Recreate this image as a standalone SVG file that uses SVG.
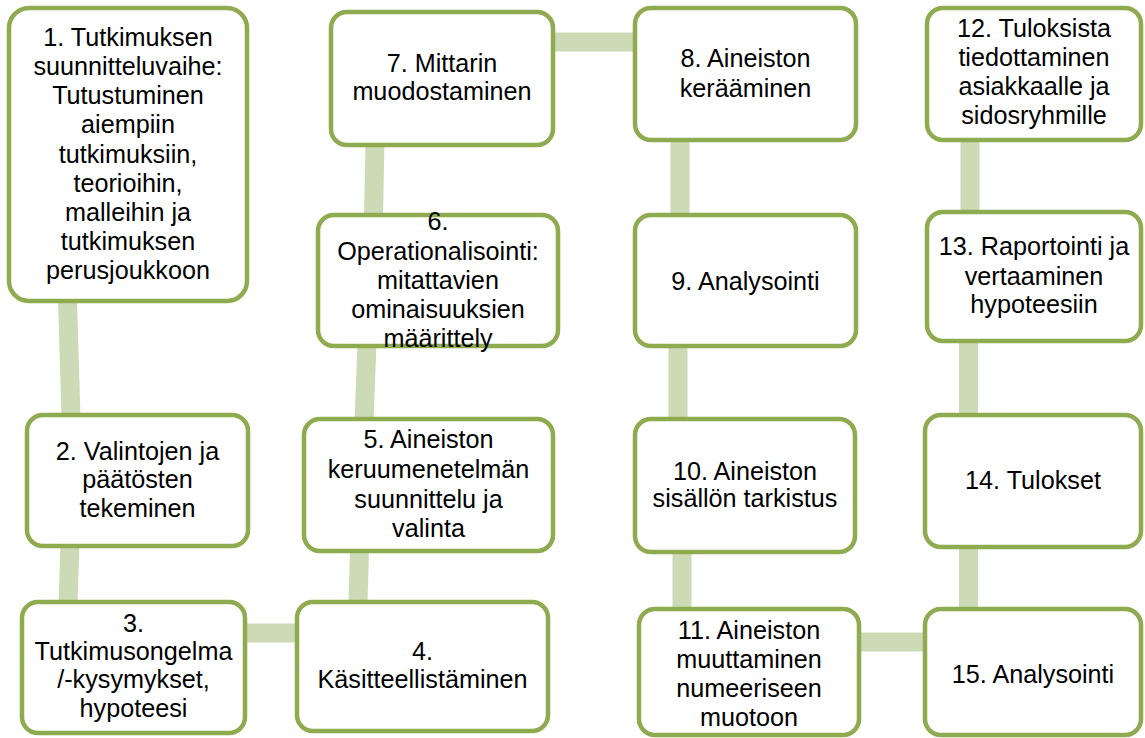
<svg xmlns="http://www.w3.org/2000/svg" width="1145" height="738" viewBox="0 0 1145 738">
<style>
.bg{fill:#ffffff}
.conn line{stroke:#CCDBB6;stroke-width:19;stroke-linecap:butt}
.box rect{fill:#ffffff;stroke:#8EAB50;stroke-width:4.5}
.box text{font-family:"Liberation Sans",Arial,sans-serif;font-size:25.2px;fill:#000000;text-anchor:middle}
</style>
<rect class="bg" x="0" y="0" width="1145" height="738"/>
<g id="connectors" class="conn">
<line x1="67.5" y1="300" x2="71" y2="417"/>
<line x1="70" y1="544" x2="68" y2="604"/>
<line x1="243" y1="633" x2="299" y2="633"/>
<line x1="359.5" y1="549" x2="358" y2="604"/>
<line x1="367" y1="344" x2="364" y2="421"/>
<line x1="375" y1="143" x2="373.5" y2="217"/>
<line x1="551" y1="42" x2="637" y2="42"/>
<line x1="680" y1="138" x2="680" y2="217"/>
<line x1="678" y1="344" x2="678" y2="421"/>
<line x1="682" y1="550" x2="682" y2="611"/>
<line x1="857" y1="642" x2="927" y2="642"/>
<line x1="968.5" y1="545" x2="968.5" y2="611"/>
<line x1="968.5" y1="339" x2="968.5" y2="417"/>
<line x1="970" y1="138" x2="970" y2="214"/>
</g>
<g id="n1" class="box"><rect x="9" y="8" width="238" height="293" rx="20"/>
<text x="128"><tspan x="128" y="46">1. Tutkimuksen</tspan><tspan x="128" y="75">suunnitteluvaihe:</tspan><tspan x="128" y="104">Tutustuminen</tspan><tspan x="128" y="133">aiempiin</tspan><tspan x="128" y="163">tutkimuksiin,</tspan><tspan x="128" y="192">teorioihin,</tspan><tspan x="128" y="221">malleihin ja</tspan><tspan x="128" y="250">tutkimuksen</tspan><tspan x="128" y="279">perusjoukkoon</tspan></text></g>
<g id="n2" class="box"><rect x="27" y="415" width="221" height="131" rx="16"/>
<text><tspan x="137.5" y="460">2. Valintojen ja</tspan><tspan x="137.5" y="488">päätösten</tspan><tspan x="137.5" y="517">tekeminen</tspan></text></g>
<g id="n3" class="box"><rect x="22" y="602" width="223" height="131" rx="16"/>
<text><tspan x="133.5" y="632">3.</tspan><tspan x="133.5" y="660">Tutkimusongelma</tspan><tspan x="133.5" y="688">/-kysymykset,</tspan><tspan x="133.5" y="717">hypoteesi</tspan></text></g>
<g id="n4" class="box"><rect x="297" y="602" width="251" height="129" rx="16"/>
<text><tspan x="422.5" y="660">4.</tspan><tspan x="422.5" y="688">Käsitteellistäminen</tspan></text></g>
<g id="n5" class="box"><rect x="304" y="419" width="249" height="132" rx="16"/>
<text><tspan x="428.5" y="448">5. Aineiston</tspan><tspan x="428.5" y="478">keruumenetelmän</tspan><tspan x="428.5" y="508">suunnittelu ja</tspan><tspan x="428.5" y="537">valinta</tspan></text></g>
<g id="n6" class="box"><rect x="318" y="215" width="240" height="131" rx="16"/>
<text><tspan x="438" y="230">6.</tspan><tspan x="438" y="260">Operationalisointi:</tspan><tspan x="438" y="289">mitattavien</tspan><tspan x="438" y="318">ominaisuuksien</tspan><tspan x="438" y="347">määrittely</tspan></text></g>
<g id="n7" class="box"><rect x="331" y="12" width="222" height="133" rx="16"/>
<text><tspan x="442" y="72">7. Mittarin</tspan><tspan x="442" y="100">muodostaminen</tspan></text></g>
<g id="n8" class="box"><rect x="635" y="8" width="221" height="132" rx="16"/>
<text><tspan x="745.5" y="67">8. Aineiston</tspan><tspan x="745.5" y="97">kerääminen</tspan></text></g>
<g id="n9" class="box"><rect x="635" y="215" width="221" height="131" rx="16"/>
<text><tspan x="745.5" y="290">9. Analysointi</tspan></text></g>
<g id="n10" class="box"><rect x="635" y="419" width="220" height="133" rx="16"/>
<text><tspan x="745" y="480">10. Aineiston</tspan><tspan x="745" y="507">sisällön tarkistus</tspan></text></g>
<g id="n11" class="box"><rect x="639" y="609" width="220" height="126" rx="16"/>
<text><tspan x="749" y="639">11. Aineiston</tspan><tspan x="749" y="668">muuttaminen</tspan><tspan x="749" y="697">numeeriseen</tspan><tspan x="749" y="726">muotoon</tspan></text></g>
<g id="n12" class="box"><rect x="927" y="8" width="214" height="132" rx="16"/>
<text><tspan x="1034" y="37">12. Tuloksista</tspan><tspan x="1034" y="66">tiedottaminen</tspan><tspan x="1034" y="95">asiakkaalle ja</tspan><tspan x="1034" y="124">sidosryhmille</tspan></text></g>
<g id="n13" class="box"><rect x="927" y="212" width="214" height="129" rx="16"/>
<text><tspan x="1034" y="255">13. Raportointi ja</tspan><tspan x="1034" y="285">vertaaminen</tspan><tspan x="1034" y="313">hypoteesiin</tspan></text></g>
<g id="n14" class="box"><rect x="925" y="415" width="216" height="132" rx="16"/>
<text><tspan x="1033" y="489">14. Tulokset</tspan></text></g>
<g id="n15" class="box"><rect x="925" y="609" width="216" height="126" rx="16"/>
<text><tspan x="1033" y="683">15. Analysointi</tspan></text></g>
</svg>
